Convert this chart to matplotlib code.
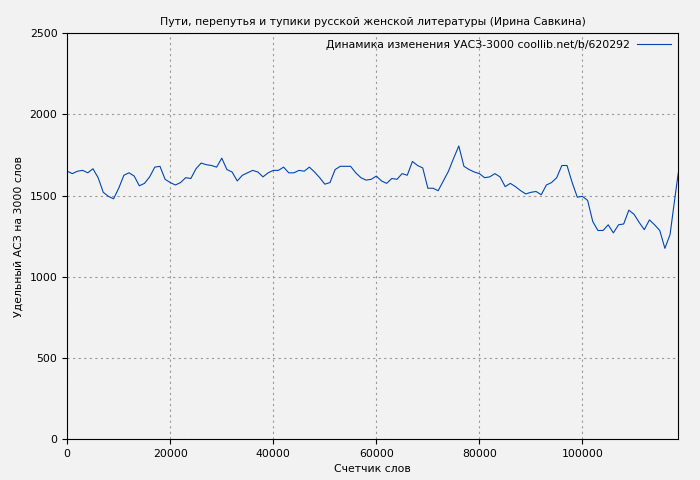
import matplotlib
matplotlib.use("Agg")
import matplotlib.pyplot as plt

words = [k*1000 for k in range(119)] + [118600]
values = [1650,1635,1650,1655,1640,1665,1610,1520,1495,1480,1545,1625,1640,1620,1560,1575,1615,1675,1680,1600,
          1580,1565,1580,1610,1605,1665,1700,1690,1685,1675,1730,1660,1645,1590,1625,1640,1655,1645,1615,1640,
          1655,1655,1675,1640,1640,1655,1650,1675,1645,1610,1570,1580,1660,1680,1680,1680,1640,1610,1595,1600,
          1620,1590,1575,1605,1600,1635,1625,1710,1685,1670,1545,1545,1530,1590,1650,1730,1805,1680,1660,1645,
          1635,1610,1615,1635,1615,1555,1575,1555,1530,1510,1520,1525,1505,1565,1580,1610,1685,1685,1580,1490,
          1495,1470,1340,1285,1285,1320,1270,1320,1325,1410,1385,1335,1290,1350,1320,1285,1175,1260,1500,1640]

bg = "#f2f2f2"
fig = plt.figure(figsize=(7, 4.8), dpi=100, facecolor=bg)
ax = fig.add_axes([0.096, 0.085, 0.873, 0.846], facecolor=bg)
ax.plot(words, values, color="#0046b4", lw=0.8, label="Динамика изменения УАСЗ-3000 coollib.net/b/620292")
ax.set_xlim(0, 118600)
ax.set_ylim(0, 2500)
ax.set_xticks([0, 20000, 40000, 60000, 80000, 100000])
ax.set_yticks([0, 500, 1000, 1500, 2000, 2500])
ax.grid(True, color="#999999", linestyle=(0, (2, 3)), lw=0.8)
ax.tick_params(labelsize=7.8)
ax.set_xlabel("Счетчик слов", fontsize=7.8)
ax.set_ylabel("Удельный АСЗ на 3000 слов", fontsize=7.8)
ax.set_title("Пути, перепутья и тупики русской женской литературы (Ирина Савкина)", fontsize=7.8)
ax.legend(loc="upper right", frameon=False, fontsize=7.8, markerfirst=False, borderaxespad=0.25,
          handlelength=3.2, handletextpad=0.6)
fig.savefig("out.png", dpi=100, facecolor=bg)
